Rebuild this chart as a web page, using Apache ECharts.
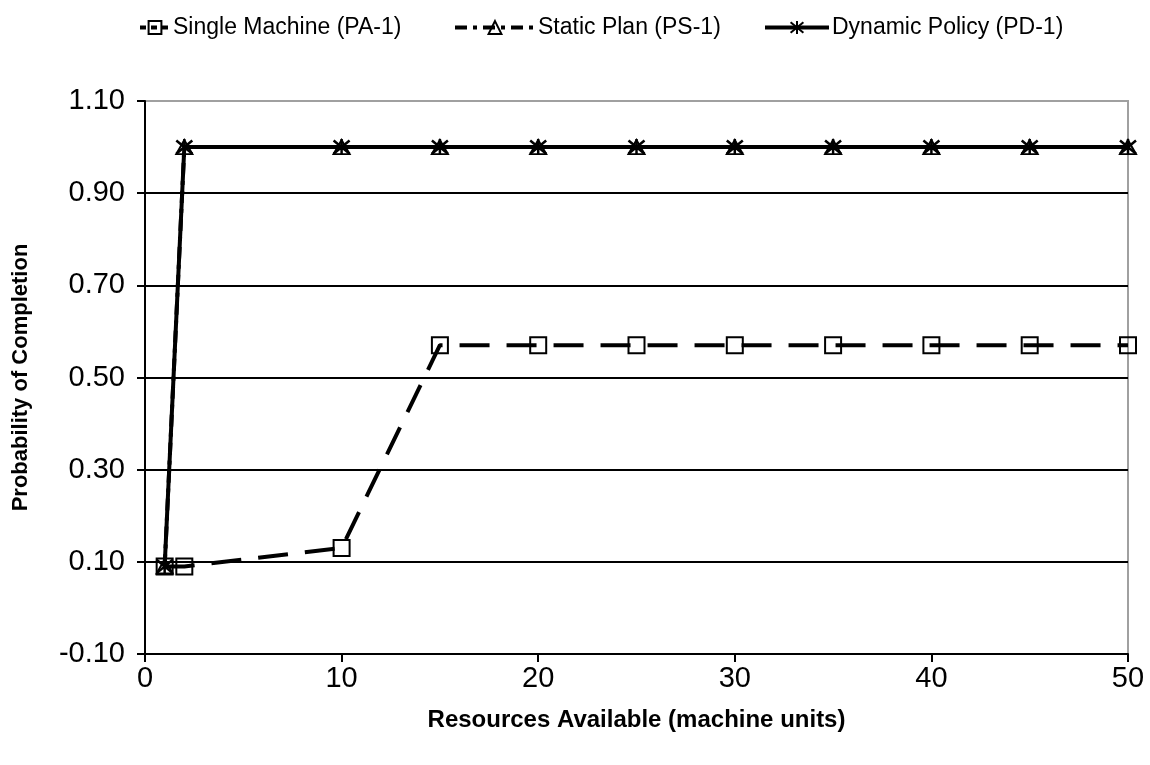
<!DOCTYPE html>
<html>
<head>
<meta charset="utf-8">
<script src="https://cdn.jsdelivr.net/npm/echarts@6/dist/echarts.min.js"></script>
<style>html,body{margin:0;padding:0;background:#fff;}#c{width:1150px;height:765px;}</style>
</head>
<body>
<div id="c"></div>
<script>
const xValues = [1, 2, 10, 15, 20, 25, 30, 35, 40, 45, 50];
const singleMachine = [0.09, 0.09, 0.13, 0.57, 0.57, 0.57, 0.57, 0.57, 0.57, 0.57, 0.57];
const staticPlan = [0.09, 1.0, 1.0, 1.0, 1.0, 1.0, 1.0, 1.0, 1.0, 1.0, 1.0];
const dynamicPolicy = [0.09, 1.0, 1.0, 1.0, 1.0, 1.0, 1.0, 1.0, 1.0, 1.0, 1.0];
const yTicks = [-0.1, 0.1, 0.3, 0.5, 0.7, 0.9, 1.1];
const seriesNames = ['Single Machine (PA-1)', 'Static Plan (PS-1)', 'Dynamic Policy (PD-1)'];

const pairs = arr => xValues.map((x, i) => [x, arr[i]]);
const font = "'Liberation Sans', Arial, sans-serif";
const star = 'path://M0,0L10,10M10,0L0,10M5,-1L5,11';

function legendFor(i, left, w, lineType) {
  return {
    data: [seriesNames[i]], left: left, top: 11,
    itemWidth: w, itemHeight: 16, itemGap: 5,
    lineStyle: {width: 4, type: lineType},
    textStyle: {fontSize: 23, color: '#000', fontFamily: font, padding: [0, 0, 0, -2]}
  };
}

const chart = echarts.init(document.getElementById('c'), null, {renderer: 'canvas'});
chart.setOption({
  animation: false,
  backgroundColor: '#fff',
  textStyle: {fontFamily: font},
  legend: [
    legendFor(0, 133, 30, [6, 5]),
    legendFor(1, 448, 80, [12, 6, 4, 6]),
    legendFor(2, 758, 64, 'solid')
  ],
  grid: {left: 145, right: 22, top: 101, bottom: 111, show: true, borderColor: '#a0a0a0', borderWidth: 2},
  xAxis: {
    type: 'value', min: 0, max: 50, interval: 10,
    name: 'Resources Available (machine units)', nameLocation: 'middle', nameGap: 54,
    nameTextStyle: {fontSize: 24, fontWeight: 'bold', color: '#000', fontFamily: font},
    axisLine: {onZero: false, lineStyle: {color: '#000', width: 2}},
    axisTick: {show: true, length: 8, inside: false, lineStyle: {color: '#000', width: 2}},
    axisLabel: {fontSize: 29, color: '#000', margin: 10, fontFamily: font},
    splitLine: {show: false}
  },
  yAxis: {
    type: 'value', min: -0.1, max: 1.1,
    name: 'Probability of Completion', nameLocation: 'middle', nameGap: 113,
    nameTextStyle: {fontSize: 22, fontWeight: 'bold', color: '#000', fontFamily: font},
    axisLine: {show: true, onZero: false, lineStyle: {color: '#000', width: 2}},
    axisTick: {show: true, length: 8, lineStyle: {color: '#000', width: 2}, customValues: yTicks},
    axisLabel: {fontSize: 29, color: '#000', margin: 20, fontFamily: font, customValues: yTicks,
      formatter: v => v.toFixed(2)},
    splitLine: {show: true, lineStyle: {color: ['#000', '#000', '#000', '#000', '#000', '#000', '#a0a0a0'], width: 2}}
  },
  series: [
    {
      name: seriesNames[0], type: 'line', data: pairs(singleMachine), z: 2,
      symbol: 'rect', symbolSize: 16,
      lineStyle: {color: '#000', width: 4, type: [30, 17]},
      itemStyle: {color: 'rgba(0,0,0,0)', borderColor: '#000', borderWidth: 2}
    },
    {
      name: seriesNames[1], type: 'line', data: pairs(staticPlan), z: 3,
      symbol: 'triangle', symbolSize: [16, 14],
      lineStyle: {color: '#000', width: 4, type: [12, 6, 4, 6]},
      itemStyle: {color: 'rgba(0,0,0,0)', borderColor: '#000', borderWidth: 2}
    },
    {
      name: seriesNames[2], type: 'line', data: pairs(dynamicPolicy), z: 4,
      symbol: star, symbolSize: 16,
      lineStyle: {color: '#000', width: 4},
      itemStyle: {color: 'none', borderColor: '#000', borderWidth: 2.5}
    }
  ]
});
</script>
</body>
</html>
